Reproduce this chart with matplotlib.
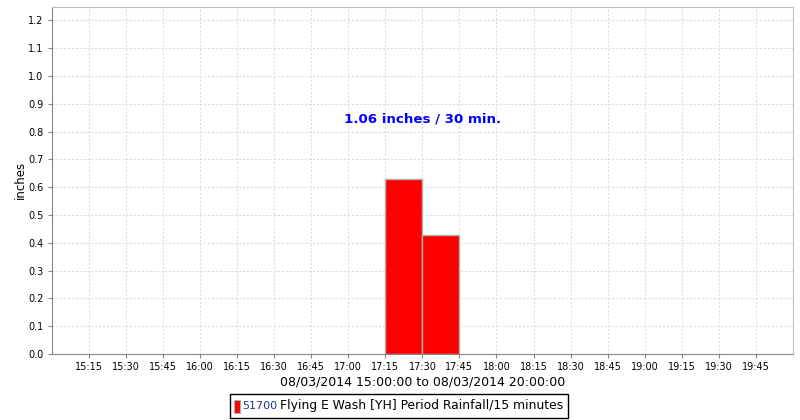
import matplotlib
matplotlib.use("Agg")
import matplotlib.pyplot as plt
import matplotlib.dates as mdates
from matplotlib.patches import Rectangle
import pandas as pd

# ---------------------------
# data
# ---------------------------
period_start = ["2014-08-03 17:15", "2014-08-03 17:30"]
rain_inches = [0.63, 0.43]
tick_labels = ["15:15", "15:30", "15:45", "16:00", "16:15", "16:30", "16:45",
               "17:00", "17:15", "17:30", "17:45", "18:00", "18:15", "18:30",
               "18:45", "19:00", "19:15", "19:30", "19:45"]
x_start = "2014-08-03 15:00"
x_end = "2014-08-03 20:00"
total_label = "1.06 inches / 30 min."
legend_id = "51700"
legend_text = "Flying E Wash [YH] Period Rainfall/15 minutes"

starts = mdates.date2num(pd.to_datetime(period_start))
width = 15 / (24 * 60)
tick_pos = mdates.date2num(pd.to_datetime(["2014-08-03 " + t for t in tick_labels]))

fig = plt.figure(figsize=(8, 4.2), dpi=100)
ax = fig.add_axes([0.065, 0.157, 0.926, 0.8275])

ax.bar(starts, rain_inches, width=width, align="edge",
       color="#ff0000", edgecolor="#b0b0b0", linewidth=1, zorder=3)

ax.set_xlim(mdates.date2num(pd.Timestamp(x_start)), mdates.date2num(pd.Timestamp(x_end)))
ax.set_ylim(0, 1.25)
ax.set_xticks(tick_pos)
ax.set_xticklabels(tick_labels)
ax.set_yticks([i / 10 for i in range(13)])
ax.set_yticklabels([f"{i / 10:.1f}" for i in range(13)])
ax.tick_params(labelsize=7, length=3, color="#888888", pad=3)

ax.grid(True, color="#d6d6d6", linestyle=(0, (2, 2)), linewidth=0.7, zorder=0)

for s in ["left", "bottom"]:
    ax.spines[s].set_color("#888888")
for s in ["right", "top"]:
    ax.spines[s].set_color("#c0c0c0")

ax.set_ylabel("inches", fontsize=8.5, labelpad=1)
ax.set_xlabel("08/03/2014 15:00:00 to 08/03/2014 20:00:00", fontsize=9, labelpad=2)

ax.text(0.5, 0.845 / 1.25, total_label, transform=ax.transAxes, ha="center", va="center",
        color="#0000ff", fontsize=9.6, fontweight="bold")

# ---------------------------
# legend
# ---------------------------
fig.patches.append(Rectangle((230 / 800, 2 / 420), 338 / 800, 24 / 420, transform=fig.transFigure,
                             facecolor="white", edgecolor="black", linewidth=1))
fig.patches.append(Rectangle((234 / 800, 7 / 420), 6 / 800, 13 / 420, transform=fig.transFigure,
                             facecolor="#ff0000", edgecolor="#b0b0b0", linewidth=0.8))
fig.text(242 / 800, 14 / 420, legend_id, fontsize=8, color="#1a3a8a", va="center")
fig.text(280 / 800, 14 / 420, legend_text, fontsize=8.9, color="black", va="center")

fig.savefig("out.png", dpi=100)
